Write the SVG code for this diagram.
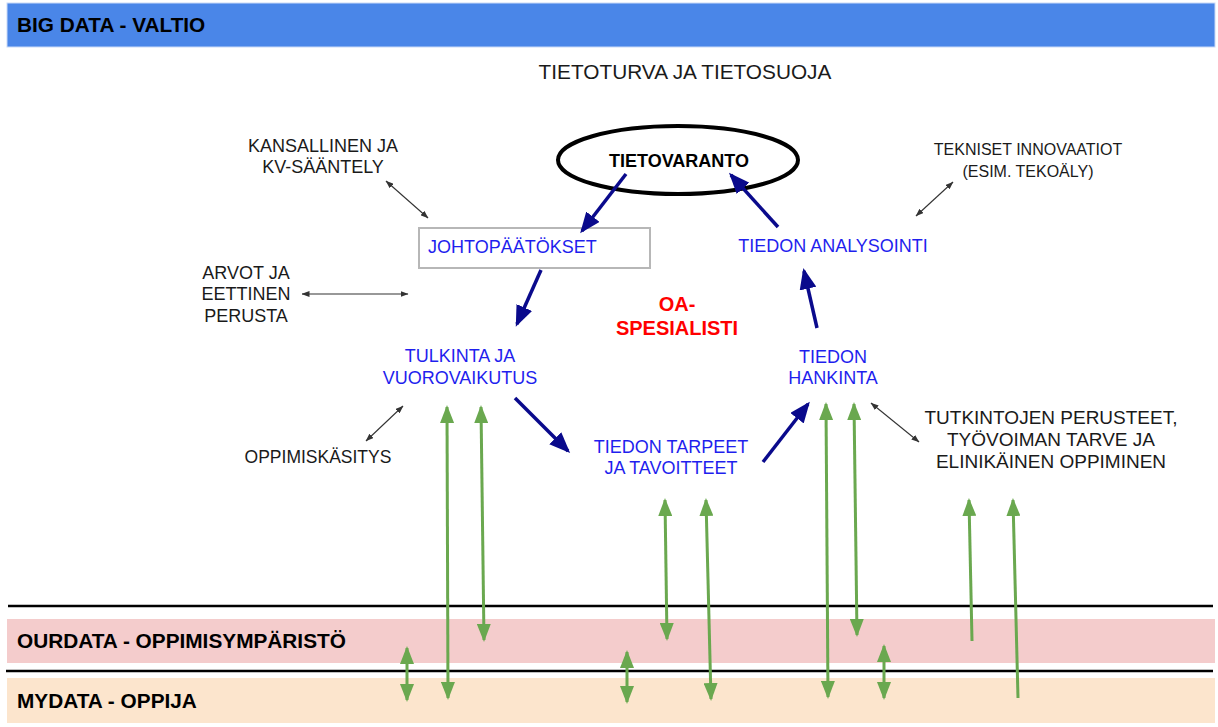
<svg xmlns="http://www.w3.org/2000/svg" width="1218" height="727" viewBox="0 0 1218 727">
<style>
text{font-family:"Liberation Sans",Arial,sans-serif;}
.band{font-weight:bold;font-size:20.8px;fill:#000;}
.blk{font-size:18px;fill:#1a1a1a;text-anchor:middle;}
.blue{font-size:18px;fill:#1f1fee;text-anchor:middle;}
.navy{stroke:#0a0a8c;stroke-width:3.5;fill:none;marker-end:url(#mNavy);}
.grn{stroke:#6aa84f;stroke-width:3;fill:none;}
.gboth{marker-start:url(#mGreen);marker-end:url(#mGreen);}
.gup{marker-start:url(#mGreen);}
.thin{stroke:#333;stroke-width:1.1;fill:none;marker-start:url(#mSmall);marker-end:url(#mSmall);}
</style>
<defs>
<marker id="mNavy" viewBox="0 0 21 17" markerWidth="21" markerHeight="17" refX="18" refY="8.5" orient="auto" markerUnits="userSpaceOnUse"><path d="M0,0 L21,8.5 L0,17 z" fill="#0a0a8c"/></marker>
<marker id="mGreen" viewBox="0 0 18 14" markerWidth="18" markerHeight="14" refX="16" refY="7" orient="auto-start-reverse" markerUnits="userSpaceOnUse"><path d="M0,0 L18,7 L0,14 z" fill="#6aa84f"/></marker>
<marker id="mSmall" viewBox="0 0 8 6" markerWidth="8" markerHeight="6" refX="7.5" refY="3" orient="auto-start-reverse" markerUnits="userSpaceOnUse"><path d="M0,0 L8,3 L0,6 z" fill="#333"/></marker>
</defs>
<rect width="1218" height="727" fill="#fff"/>

<g id="band-bigdata">
<rect x="7" y="3" width="1208" height="44" fill="#4a86e8" stroke="#c9daf8" stroke-width="1"/>
<text class="band" x="17" y="32">BIG DATA - VALTIO</text>
</g>
<g id="band-ourdata">
<rect x="7" y="619" width="1208" height="44" fill="#f4cccc"/>
<text class="band" x="17" y="648">OURDATA - OPPIMISYMPÄRISTÖ</text>
</g>
<g id="band-mydata">
<rect x="7" y="678" width="1208" height="45" fill="#fce5cd"/>
<text class="band" x="17" y="708">MYDATA - OPPIJA</text>
</g>
<g id="separators">
<line x1="8" y1="606" x2="1213" y2="606" stroke="#000" stroke-width="2.5"/>
<line x1="6" y1="671" x2="1213" y2="671" stroke="#000" stroke-width="2.5"/>
</g>

<g id="title">
<text x="685" y="79" style="font-size:20.8px;fill:#1a1a1a;text-anchor:middle">TIETOTURVA JA TIETOSUOJA</text>
</g>

<g id="tietovaranto">
<ellipse cx="678" cy="160" rx="120" ry="34" fill="#fff" stroke="#000" stroke-width="4"/>
<text x="679" y="167" style="font-size:18px;font-weight:bold;fill:#000;text-anchor:middle">TIETOVARANTO</text>
</g>

<g id="johtopaatokset">
<rect x="419" y="228" width="231" height="40" fill="#fff" stroke="#b7b7b7" stroke-width="2"/>
<text x="428" y="253" style="font-size:18px;fill:#1f1fee">JOHTOPÄÄTÖKSET</text>
</g>

<g id="tiedon-analysointi">
<text class="blue" x="833" y="252">TIEDON ANALYSOINTI</text>
</g>

<g id="oa-spesialisti">
<text x="677" y="311" style="font-size:20px;font-weight:bold;fill:#ff0000;text-anchor:middle">OA-</text>
<text x="677" y="335" style="font-size:20px;font-weight:bold;fill:#ff0000;text-anchor:middle">SPESIALISTI</text>
</g>

<g id="tulkinta">
<text class="blue" x="460" y="362">TULKINTA JA</text>
<text class="blue" x="460" y="384">VUOROVAIKUTUS</text>
</g>

<g id="tiedon-hankinta">
<text class="blue" x="833" y="363">TIEDON</text>
<text class="blue" x="833" y="384">HANKINTA</text>
</g>

<g id="tiedon-tarpeet">
<text class="blue" x="671" y="453">TIEDON TARPEET</text>
<text class="blue" x="671" y="474">JA TAVOITTEET</text>
</g>

<g id="kansallinen">
<text class="blk" x="323" y="152">KANSALLINEN JA</text>
<text class="blk" x="323" y="173">KV-SÄÄNTELY</text>
</g>

<g id="arvot">
<text class="blk" x="246" y="279">ARVOT JA</text>
<text class="blk" x="246" y="300">EETTINEN</text>
<text class="blk" x="246" y="322">PERUSTA</text>
</g>

<g id="oppimiskasitys">
<text class="blk" x="318" y="463" style="font-size:17.5px">OPPIMISKÄSITYS</text>
</g>

<g id="tekniset">
<text class="blk" x="1028" y="155" style="font-size:16px">TEKNISET INNOVAATIOT</text>
<text class="blk" x="1028" y="177" style="font-size:16px">(ESIM. TEKOÄLY)</text>
</g>

<g id="tutkintojen">
<text class="blk" x="1051" y="424" style="font-size:19px">TUTKINTOJEN PERUSTEET,</text>
<text class="blk" x="1051" y="446" style="font-size:19px">TYÖVOIMAN TARVE JA</text>
<text class="blk" x="1051" y="468" style="font-size:19px">ELINIKÄINEN OPPIMINEN</text>
</g>

<g id="connectors">
<line class="navy" x1="626" y1="174" x2="582" y2="231"/>
<line class="navy" x1="778" y1="227" x2="731" y2="175"/>
<line class="navy" x1="541" y1="270" x2="517" y2="324"/>
<line class="navy" x1="817" y1="328" x2="804" y2="271"/>
<line class="navy" x1="515" y1="398" x2="568" y2="451"/>
<line class="navy" x1="763" y1="462" x2="808" y2="404"/>
<line class="thin" x1="386" y1="181" x2="428" y2="218"/>
<line class="thin" x1="302" y1="294" x2="408" y2="294"/>
<line class="thin" x1="366" y1="441" x2="403" y2="406"/>
<line class="thin" x1="916" y1="216" x2="953" y2="182"/>
<line class="thin" x1="871" y1="403" x2="919" y2="442"/>
<line class="grn gboth" x1="447" y1="407" x2="448" y2="698"/>
<line class="grn gboth" x1="481" y1="407" x2="484" y2="640"/>
<line class="grn gboth" x1="407" y1="648" x2="407" y2="700"/>
<line class="grn gboth" x1="665" y1="500" x2="667" y2="639"/>
<line class="grn gboth" x1="706" y1="500" x2="711" y2="699"/>
<line class="grn gboth" x1="627" y1="652" x2="627" y2="702"/>
<line class="grn gboth" x1="826" y1="404" x2="828" y2="697"/>
<line class="grn gboth" x1="854" y1="404" x2="857" y2="635"/>
<line class="grn gboth" x1="884" y1="646" x2="884" y2="698"/>
<line class="grn gup" x1="969" y1="500" x2="972" y2="641"/>
<line class="grn gup" x1="1013" y1="500" x2="1018" y2="698"/>
</g>
</svg>
